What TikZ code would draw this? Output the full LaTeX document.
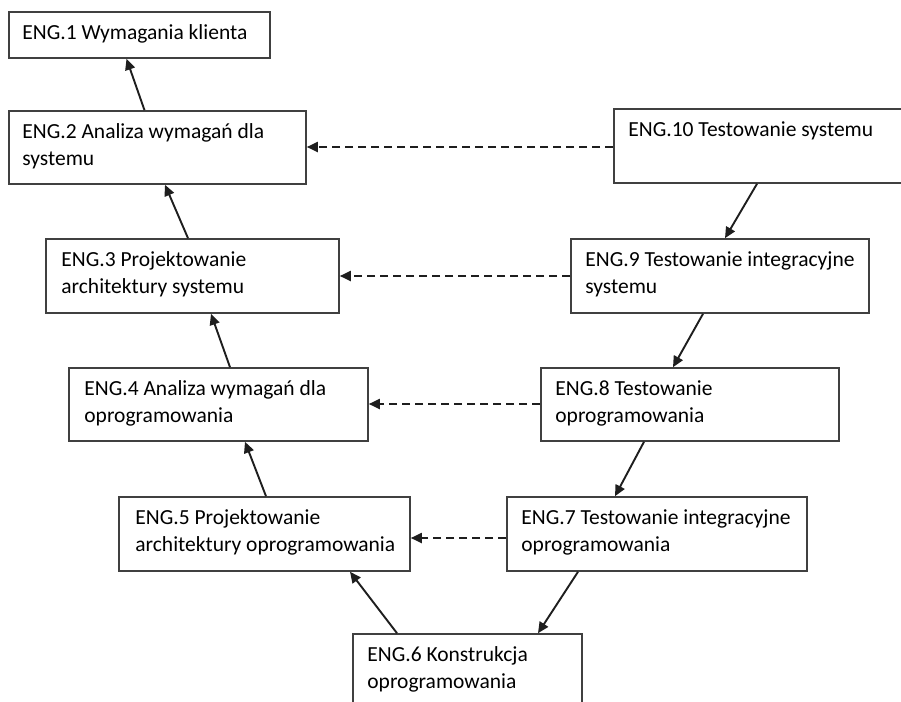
\documentclass[tikz,border=0pt]{standalone}
\usepackage{fontspec}
\setmainfont{Carlito}
\usetikzlibrary{arrows.meta}

\definecolor{linegray}{HTML}{1E1E1E}
\definecolor{boxgray}{HTML}{404040}

\tikzset{
    box/.style={draw=boxgray, line width=1.6pt, fill=white, inner sep=0pt},
    txt/.style={anchor=north west, inner sep=0pt, align=left, text=black,
        font=\fontsize{21.5}{27}\selectfont},
    flow/.style={draw=linegray, line width=1.9pt, -{Triangle[length=11pt,width=10pt]}},
    back/.style={flow, dash pattern=on 8pt off 5pt}
}

\begin{document}
\begin{tikzpicture}[x=1pt, y=-1pt]
        \useasboundingbox (0,0) rectangle (901,701);
        \fill[white] (0,0) rectangle (901,701);

        % left branch
        \node[box, minimum width=261, minimum height=46] (e1) at (139.5,35) {};
        \node[box, minimum width=297, minimum height=73] (e2) at (157.5,147.5) {};
        \node[box, minimum width=293, minimum height=74] (e3) at (192.5,276) {};
        \node[box, minimum width=299, minimum height=73] (e4) at (218.5,404.5) {};
        \node[box, minimum width=291, minimum height=74] (e5) at (264.5,534) {};
        \node[box, minimum width=229, minimum height=86] (e6) at (467.5,677) {};
        % right branch
        \node[box, minimum width=300, minimum height=74] (e7) at (657,534) {};
        \node[box, minimum width=298, minimum height=73] (e8) at (690,404.5) {};
        \node[box, minimum width=298, minimum height=74] (e9) at (720,276) {};
        \node[box, minimum width=306, minimum height=74] (e10) at (767,146) {};

        \node[txt] (t1) at ([shift={(14,13)}]e1.north west) {ENG.1 Wymagania klienta};
        \node[txt] (t2) at ([shift={(14,13)}]e2.north west) {ENG.2 Analiza wymagań dla\\systemu};
        \node[txt] (t3) at ([shift={(16,13)}]e3.north west) {ENG.3 Projektowanie\\architektury systemu};
        \node[txt] (t4) at ([shift={(16,13)}]e4.north west) {ENG.4 Analiza wymagań dla\\oprogramowania};
        \node[txt] (t5) at ([shift={(17,13)}]e5.north west) {ENG.5 Projektowanie\\architektury oprogramowania};
        \node[txt] (t6) at ([shift={(15,13)}]e6.north west) {ENG.6 Konstrukcja\\oprogramowania};
        \node[txt] (t7) at ([shift={(15,13)}]e7.north west) {ENG.7 Testowanie integracyjne\\oprogramowania};
        \node[txt] (t8) at ([shift={(15,13)}]e8.north west) {ENG.8 Testowanie\\oprogramowania};
        \node[txt] (t9) at ([shift={(15,13)}]e9.north west) {ENG.9 Testowanie integracyjne\\systemu};
        \node[txt] (t10) at ([shift={(15,13)}]e10.north west) {ENG.10 Testowanie systemu};

        \draw[flow] ([xshift=-13pt]e2.north) -- ([xshift=-13pt]e1.south);
        \draw[flow] ([xshift=-4.5pt]e3.north) -- ([xshift=7.5pt]e2.south);
        \draw[flow] ([xshift=11.5pt]e4.north) -- ([xshift=18.5pt]e3.south);
        \draw[flow] ([xshift=1.5pt]e5.north) -- ([xshift=26.5pt]e4.south);
        \draw[flow] ([xshift=-70.5pt]e6.north) -- ([xshift=85.5pt]e5.south);

        \draw[flow] ([xshift=-10pt]e10.south) -- ([xshift=5pt]e9.north);
        \draw[flow] ([xshift=-17pt]e9.south) -- ([xshift=-17pt]e8.north);
        \draw[flow] ([xshift=-46pt]e8.south) -- ([xshift=-42pt]e7.north);
        \draw[flow] ([xshift=-79pt]e7.south) -- ([xshift=70.5pt]e6.north);

        \draw[back] ([yshift=-1pt]e10.west) -- ([yshift=-1pt]e10.west -| e2.east);
        \draw[back] (e9.west) -- (e9.west -| e3.east);
        \draw[back] ([yshift=0.5pt]e8.west) -- ([yshift=0.5pt]e8.west -| e4.east);
        \draw[back] ([yshift=-4pt]e7.west) -- ([yshift=-4pt]e7.west -| e5.east);
    \end{tikzpicture}
\end{document}
